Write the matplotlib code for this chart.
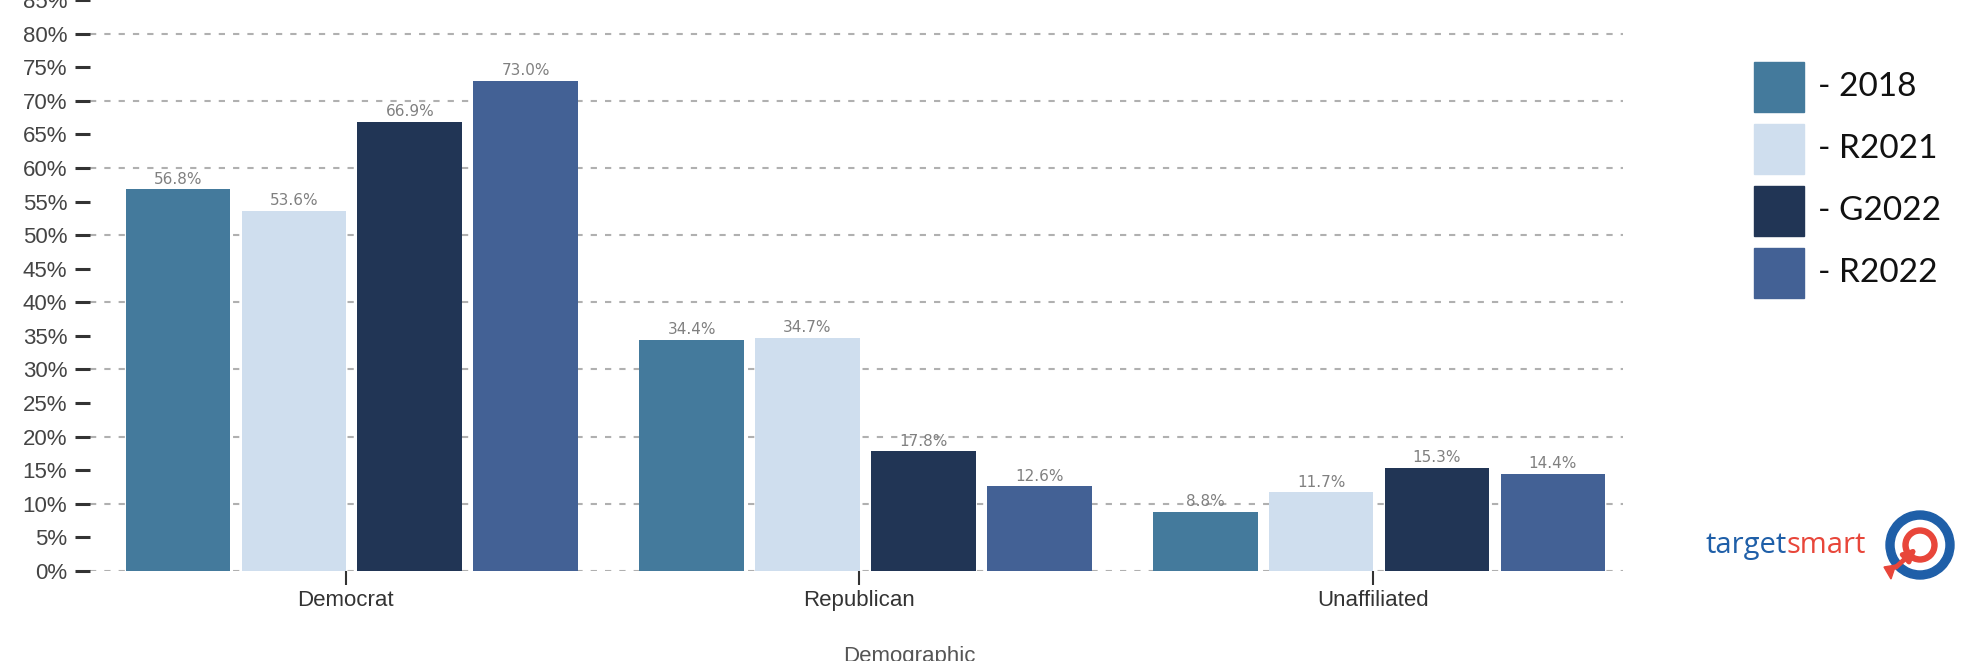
import numpy as np
import matplotlib
matplotlib.use("Agg")
import matplotlib.pyplot as plt
from matplotlib.patches import Rectangle, Wedge, FancyArrowPatch, Polygon

# Data
groups = ["Democrat", "Republican", "Unaffiliated"]
series = ["2018", "R2021", "G2022", "R2022"]
vals_2018 = [56.8, 34.4, 8.8]
vals_r2021 = [53.6, 34.7, 11.7]
vals_g2022 = [66.9, 17.8, 15.3]
vals_r2022 = [73.0, 12.6, 14.4]
colors = ["#447a9c", "#cfdeee", "#213555", "#436195"]

values = [vals_2018, vals_r2021, vals_g2022, vals_r2022]

W, H = 1961, 661
plt.rcParams['lines.scale_dashes'] = False
fig = plt.figure(figsize=(W / 100, H / 100), dpi=100)

ax = fig.add_axes([90 / W, 90 / H, (1623 - 90) / W, 571 / H])
x = np.arange(len(groups))
pitch = 0.2257
width = 0.204
for k, (name, v) in enumerate(zip(series, values)):
    bars = ax.bar(x + (k - 1.5) * pitch, v, width, color=colors[k], zorder=2, label=name)
    ax.bar_label(bars, fmt='%.1f%%', padding=2, fontsize=11, color='#808080',
                 family='DejaVu Sans')

ax.set_xlim(-0.510, 2.475)
ax.set_ylim(0, 85)
ax.set_yticks(np.arange(0, 86, 5))
ax.set_yticklabels([f"{t}%" for t in range(0, 86, 5)])
ax.set_xticks(x - 0.012)
ax.set_xticklabels(groups)

for s in ax.spines.values():
    s.set_visible(False)

ax.tick_params(axis='y', length=10.8, width=2.2, color='#333333', pad=5.5,
               labelsize=16, labelcolor='#444444')
ax.tick_params(axis='x', length=10, width=1.5, color='#333333', pad=3.5,
               labelsize=16, labelcolor='#333333')
for lab in ax.get_xticklabels() + ax.get_yticklabels():
    lab.set_family('Liberation Sans')

for yv in range(0, 81, 10):
    ax.axhline(yv, color='#b0b0b0', lw=1.5, ls=(0, (4.5, 5.8)), zorder=1)

# overlay in pixel coordinates: legend, axis title, logo
ov = fig.add_axes([0, 0, 1, 1])
ov.set_xlim(0, W)
ov.set_ylim(H, 0)
ov.axis('off')
ov.patch.set_alpha(0)

for k, name in enumerate(series):
    y0 = 62 + 62 * k
    ov.add_patch(Rectangle((1754, y0), 50, 50, color=colors[k]))
    ov.text(1818, y0 + 25, f"- {name}", va='center', ha='left', fontsize=24,
            family='Lato', color='#111111')

ov.text(909, 646, "Demographic", ha='center', va='top', fontsize=16,
        color='#555555', family='Liberation Sans')

# targetsmart logo
t1 = ov.text(1705, 553, "target", ha='left', va='baseline', fontsize=21,
             color='#1f5fa8', family='Open Sans')
fig.canvas.draw()
bb = t1.get_window_extent(fig.canvas.get_renderer())
xr = ov.transData.inverted().transform((bb.x1, bb.y0))[0]
ov.text(xr, 553, "smart", ha='left', va='baseline', fontsize=21,
        color='#e8463a', family='Open Sans')

cx, cy = 1920, 545
ov.add_patch(Wedge((cx, cy), 34, 0, 360, width=8, color='#1f5fa8'))
ov.add_patch(Wedge((cx, cy), 17, 0, 360, width=5, color='#e8463a'))
ov.add_patch(FancyArrowPatch((1894, 569), (cx - 1, cy + 1), arrowstyle='-|>',
                             mutation_scale=18, color='#e8463a', lw=3.5))
ov.add_patch(Polygon([(1884, 567), (1896, 565), (1894, 570), (1891, 579)],
                     closed=True, color='#e8463a'))

fig.savefig("out.png", dpi=100)
